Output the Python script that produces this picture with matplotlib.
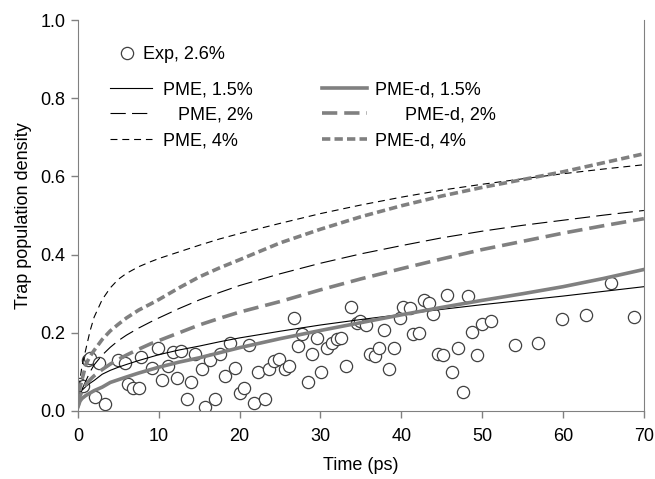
import matplotlib
matplotlib.use('Agg')
import matplotlib.pyplot as plt

plt.rcParams['font.family'] = ['Liberation Sans', 'DejaVu Sans']
plt.rcParams['font.size'] = 13
plt.rcParams['lines.scale_dashes'] = False

#%% Data

# experimental points (Exp, 2.6%)
exp_t = [0.1, 0.6, 1.2, 1.5, 2.1, 2.6, 3.3, 5.0, 5.8, 6.2, 6.8, 7.6, 7.8, 9.1, 9.9,
         10.4, 11.2, 11.7, 12.2, 12.8, 13.5, 14.0, 14.5, 15.3, 15.7, 16.3, 16.9, 17.6,
         18.2, 18.8, 19.4, 20.0, 20.6, 21.1, 21.8, 22.3, 23.1, 23.6, 24.3, 24.9, 25.6,
         26.1, 26.7, 27.2, 27.7, 28.4, 29.0, 29.6, 30.1, 30.8, 31.4, 32.1, 32.5, 33.1,
         33.8, 34.5, 34.9, 35.6, 36.1, 36.7, 37.3, 37.9, 38.5, 39.1, 39.8, 40.2, 41.1,
         41.5, 42.2, 42.8, 43.4, 43.9, 44.5, 45.1, 45.7, 46.3, 47.0, 47.6, 48.2, 48.7,
         49.4, 50.0, 51.1, 54.0, 56.9, 59.9, 62.9, 65.9, 68.8]
exp_y = [0.07, 0.065, 0.13, 0.136, 0.035, 0.124, 0.018, 0.13, 0.124, 0.07, 0.06, 0.06,
         0.137, 0.11, 0.16, 0.08, 0.115, 0.15, 0.085, 0.153, 0.03, 0.073, 0.145, 0.107,
         0.01, 0.13, 0.03, 0.145, 0.09, 0.175, 0.11, 0.045, 0.06, 0.17, 0.02, 0.10, 0.03,
         0.107, 0.128, 0.132, 0.107, 0.115, 0.238, 0.166, 0.196, 0.073, 0.145, 0.187,
         0.10, 0.162, 0.175, 0.183, 0.187, 0.115, 0.267, 0.225, 0.23, 0.221, 0.145,
         0.141, 0.162, 0.208, 0.107, 0.16, 0.238, 0.267, 0.263, 0.196, 0.20, 0.284,
         0.276, 0.249, 0.145, 0.143, 0.297, 0.099, 0.162, 0.048, 0.293, 0.202, 0.143,
         0.223, 0.231, 0.17, 0.175, 0.235, 0.246, 0.328, 0.24]

# model curves
t = [0, 0.25, 0.5, 1, 1.5, 2, 3, 4, 5, 6, 7.5, 9, 10, 12.5, 15, 17.5, 20, 25, 30, 35,
     40, 45, 50, 55, 60, 65, 70]
pme_15 = [0.02, 0.045, 0.053, 0.063, 0.071, 0.078, 0.094, 0.104, 0.112, 0.119, 0.129,
          0.138, 0.144, 0.156, 0.166, 0.177, 0.187, 0.204, 0.22, 0.234, 0.247, 0.26,
          0.272, 0.283, 0.294, 0.306, 0.318]
pme_2 = [0.0, 0.04, 0.055, 0.078, 0.1, 0.118, 0.143, 0.163, 0.18, 0.194, 0.212, 0.228,
         0.238, 0.262, 0.284, 0.303, 0.321, 0.351, 0.378, 0.402, 0.423, 0.443, 0.46,
         0.475, 0.488, 0.501, 0.513]
pme_4 = [0.0, 0.08, 0.115, 0.16, 0.205, 0.24, 0.285, 0.315, 0.337, 0.352, 0.369, 0.382,
         0.39, 0.407, 0.424, 0.44, 0.454, 0.48, 0.505, 0.527, 0.547, 0.565, 0.58, 0.594,
         0.607, 0.619, 0.63]
pmed_15 = [0.01, 0.025, 0.032, 0.04, 0.046, 0.052, 0.061, 0.073, 0.08, 0.087, 0.097,
           0.106, 0.112, 0.125, 0.136, 0.149, 0.162, 0.185, 0.206, 0.226, 0.246, 0.265,
           0.283, 0.3, 0.318, 0.339, 0.362]
pmed_2 = [0.01, 0.038, 0.05, 0.068, 0.08, 0.09, 0.106, 0.12, 0.132, 0.143, 0.158, 0.172,
          0.18, 0.2, 0.22, 0.237, 0.253, 0.28, 0.31, 0.338, 0.364, 0.389, 0.413, 0.434,
          0.455, 0.474, 0.492]
pmed_4 = [0.02, 0.06, 0.08, 0.12, 0.14, 0.155, 0.183, 0.205, 0.222, 0.238, 0.258, 0.274,
          0.285, 0.315, 0.343, 0.366, 0.387, 0.43, 0.465, 0.497, 0.525, 0.55, 0.572,
          0.592, 0.612, 0.635, 0.658]

xticks = [0, 10, 20, 30, 40, 50, 60, 70]
yticks = [0.0, 0.2, 0.4, 0.6, 0.8, 1.0]

#%% Plot

grey = '#808080'
fig = plt.figure(figsize=(6.55, 4.79), dpi=100)
ax = fig.add_axes([0.119, 0.142, 0.864, 0.816])

l1, = ax.plot(t, pme_15, color='black', lw=0.8, label='PME, 1.5%')
l2, = ax.plot(t, pme_2, color='black', lw=0.8, dashes=(11, 4.5), label='   PME, 2%')
l3, = ax.plot(t, pme_4, color='black', lw=0.8, dashes=(5, 3.5), label='PME, 4%')
d1, = ax.plot(t, pmed_15, color=grey, lw=2.6, label='PME-d, 1.5%')
d2, = ax.plot(t, pmed_2, color=grey, lw=2.6, dashes=(11, 5), label='      PME-d, 2%')
d3, = ax.plot(t, pmed_4, color=grey, lw=2.6, dashes=(6, 3), label='PME-d, 4%')
sc, = ax.plot(exp_t, exp_y, 'o', ms=8.8, mfc='white', mec='#404040', mew=0.9,
              linestyle='none', label='Exp, 2.6%', zorder=1)

ax.set_xlim(0, 70)
ax.set_ylim(0, 1.0)
ax.set_xticks(xticks)
ax.set_yticks(yticks)
ax.set_yticklabels(['%.1f' % v for v in yticks])
ax.set_xlabel('Time (ps)', labelpad=9)
ax.set_ylabel('Trap population density', labelpad=6)

for s in ['left', 'bottom', 'right']:
    ax.spines[s].set_color(grey)
ax.spines['top'].set_visible(False)
ax.tick_params(direction='out', length=5, color=grey, width=1)
ax.tick_params(axis='x', pad=7)
ax.tick_params(axis='y', pad=4)

leg0 = ax.legend(handles=[sc], loc='upper left', bbox_to_anchor=(0.071, 0.933),
                 frameon=False, borderpad=0, borderaxespad=0,
                 handlelength=1.0, handletextpad=0.4)
ax.add_artist(leg0)
leg1 = ax.legend(handles=[l1, l2, l3], loc='upper left', bbox_to_anchor=(0.0565, 0.844),
                 frameon=False, borderpad=0, borderaxespad=0,
                 handlelength=2.33, handletextpad=0.6, labelspacing=0.47)
ax.add_artist(leg1)
leg2 = ax.legend(handles=[d1, d2, d3], loc='upper left', bbox_to_anchor=(0.431, 0.844),
                 frameon=False, borderpad=0, borderaxespad=0,
                 handlelength=2.5, handletextpad=0.45, labelspacing=0.47)

plt.savefig('out.png', dpi=100)
